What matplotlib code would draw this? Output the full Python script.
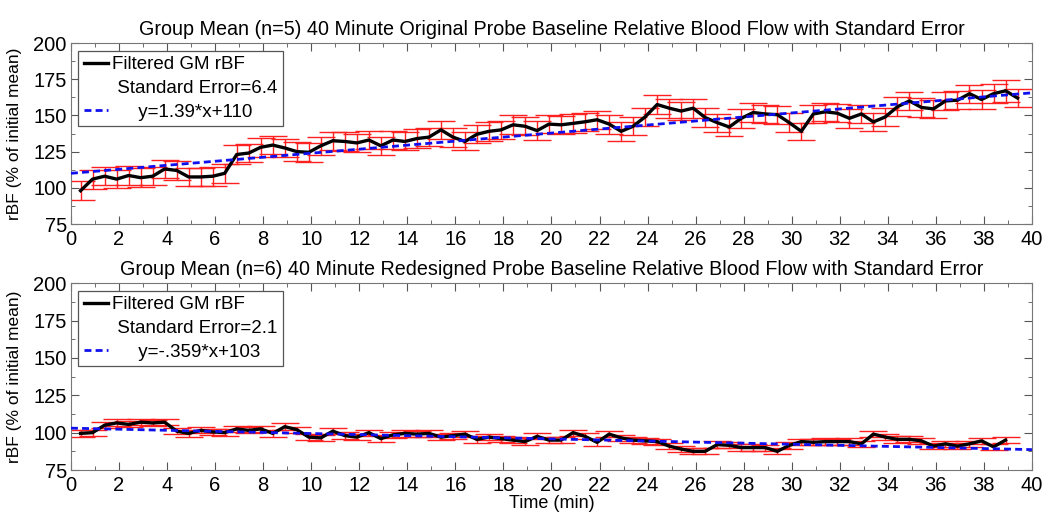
import matplotlib.pyplot as plt
from matplotlib.lines import Line2D
import numpy as np

# --- data (time in min, rBF in % of initial mean) ---
time_orig = np.arange(0.4, 39.5, 0.5)
rbf_orig = [98, 106, 108, 106, 108.5, 107, 108, 113, 112, 107.5,
            107.5, 108, 110, 123, 124, 128, 129.5, 127.5, 125, 124.5,
            129, 132.5, 132, 131, 133, 129, 133, 132, 134, 135,
            140, 135, 132, 137, 139, 140, 143.5, 142.5, 139.5, 144,
            143.5, 144.5, 145.6, 147, 144, 139, 142.5, 149, 157.5, 155,
            153, 155, 148.5, 145, 142, 148, 152, 151, 150.5, 145,
            139, 151, 152.5, 151.5, 148, 151, 145.5, 149, 156, 160,
            155.5, 154.5, 160, 160.5, 165, 161, 165, 167, 162]
se_orig = [6.4, 6.5, 6.2, 6.4, 6.3, 6.6, 6.2, 6.0, 6.3, 6.5,
           6.4, 6.6, 6.5, 6.3, 6.4, 6.6, 6.5, 6.3, 6.4, 6.5,
           6.3, 6.2, 6.4, 6.3, 6.5, 6.4, 6.3, 6.2, 6.5, 6.4,
           6.3, 6.5, 6.2, 6.3, 6.4, 6.2, 6.5, 6.3, 6.4, 6.2,
           6.3, 6.4, 6.2, 6.3, 6.5, 6.4, 6.3, 6.4, 6.5, 6.6,
           6.3, 6.5, 6.4, 6.2, 6.3, 6.5, 6.4, 6.3, 6.2, 6.4,
           6.0, 6.4, 6.3, 6.2, 6.4, 6.3, 6.5, 6.3, 6.4, 6.2,
           6.3, 6.4, 6.5, 6.3, 6.2, 6.4, 6.6, 7.4, 6.5]
fit_orig = (1.39, 110)
se_label_orig = 'Standard Error=6.4'

time_new = np.arange(0.4, 39.0, 0.5)
rbf_new = [99.5, 100, 105, 106.5, 105.5, 107, 106.5, 107, 101, 99.5,
           101.5, 100.5, 100, 102.5, 101.5, 102.5, 99.5, 104, 102, 97,
           96.5, 101, 98, 97, 100, 96, 98.5, 99.5, 99, 99.5,
           97, 98, 99, 95.5, 97, 96, 95, 94, 97.5, 95,
           95, 100, 97.5, 93.5, 99, 96.5, 95, 94.5, 94, 91,
           89, 87.5, 87.5, 92, 91.5, 90, 90, 90, 87.5, 91.5,
           94, 93.5, 94, 94, 94, 92.5, 99, 97, 95.5, 95.5,
           94.5, 91, 92.5, 91, 92.5, 94.5, 90.5, 95]
se_new = [2.2, 2.0, 2.1, 2.3, 2.0, 2.1, 2.2, 2.0, 2.1, 2.2,
          2.0, 2.1, 2.2, 2.1, 2.0, 2.2, 2.1, 2.3, 2.0, 2.1,
          2.2, 2.0, 2.1, 2.2, 2.0, 2.1, 2.1, 2.2, 2.0, 2.1,
          2.2, 2.0, 2.1, 2.1, 2.2, 2.0, 2.1, 2.3, 2.0, 2.1,
          2.2, 2.1, 2.0, 2.2, 2.1, 2.0, 2.1, 2.2, 2.0, 2.1,
          2.2, 2.0, 2.1, 2.2, 2.0, 2.1, 2.2, 2.0, 2.1, 2.2,
          2.0, 2.1, 2.2, 2.0, 2.1, 2.2, 2.0, 2.1, 2.2, 2.0,
          2.1, 2.2, 2.0, 2.1, 2.2, 2.0, 2.1, 2.2]
fit_new = (-0.359, 103)
se_label_new = 'Standard Error=2.1'

titles = ['Group Mean (n=5) 40 Minute Original Probe Baseline Relative Blood Flow with Standard Error',
          'Group Mean (n=6) 40 Minute Redesigned Probe Baseline Relative Blood Flow with Standard Error']
fit_labels = ['     y=1.39*x+110', '     y=-.359*x+103']

plt.rcParams['font.family'] = ['Liberation Sans', 'DejaVu Sans']
fig = plt.figure(figsize=(10.48, 5.12), dpi=100)
ax1 = fig.add_axes([0.0677, 0.5625, 0.917, 0.3535])
ax2 = fig.add_axes([0.0677, 0.082, 0.917, 0.365])

panels = [(ax1, time_orig, rbf_orig, se_orig, fit_orig, se_label_orig),
          (ax2, time_new, rbf_new, se_new, fit_new, se_label_new)]

for i, (ax, t, y, se, fit, se_label) in enumerate(panels):
    ax.errorbar(t, y, yerr=se, fmt='none', ecolor='#ff2020', elinewidth=1.0,
                capsize=10, capthick=1.0, zorder=2)
    ax.plot(t, y, color='black', lw=2.4, zorder=3)
    xf = np.array([0, 40])
    ax.plot(xf, fit[0] * xf + fit[1], color='#1010ee', ls='--', lw=2.0,
            dashes=(2.5, 1.5), zorder=4)

    ax.set_xlim(0, 40)
    ax.set_ylim(75, 200)
    ax.set_xticks(np.arange(0, 41, 2))
    ax.set_xticks(np.arange(0, 41, 1), minor=True)
    ax.set_yticks(np.arange(75, 201, 25))
    ax.set_yticks(np.arange(75, 201, 12.5), minor=True)
    ax.tick_params(which='both', direction='in', top=True, right=True,
                   labelsize=14.5, colors='#555555', labelcolor='black')
    ax.tick_params(which='major', length=6)
    ax.tick_params(which='minor', length=3)
    ax.tick_params(axis='x', pad=4)
    ax.tick_params(axis='y', pad=3)
    for s in ax.spines.values():
        s.set_color('#777777')
    ax.set_ylabel('rBF (% of initial mean)', fontsize=12.5)
    ax.yaxis.set_label_coords(-0.051, 0.5)
    ax.set_title(titles[i], fontsize=14.2, pad=6)

    handles = [Line2D([], [], color='black', lw=2.4),
               Line2D([], [], color='none'),
               Line2D([], [], color='#1010ee', ls='--', lw=2.0, dashes=(2.5, 1.5))]
    leg = ax.legend(handles, ['Filtered GM rBF', ' ' + se_label, fit_labels[i]],
                    loc='upper left', fontsize=13.5, handlelength=1.3,
                    handletextpad=0.2, labelspacing=0.35, borderpad=0.3,
                    borderaxespad=0.4, fancybox=False, framealpha=1)
    leg.get_frame().set_edgecolor('#555555')
    leg.get_frame().set_linewidth(0.9)

ax2.set_xlabel('Time (min)', fontsize=13, labelpad=0)

plt.savefig('out.png', dpi=100)
